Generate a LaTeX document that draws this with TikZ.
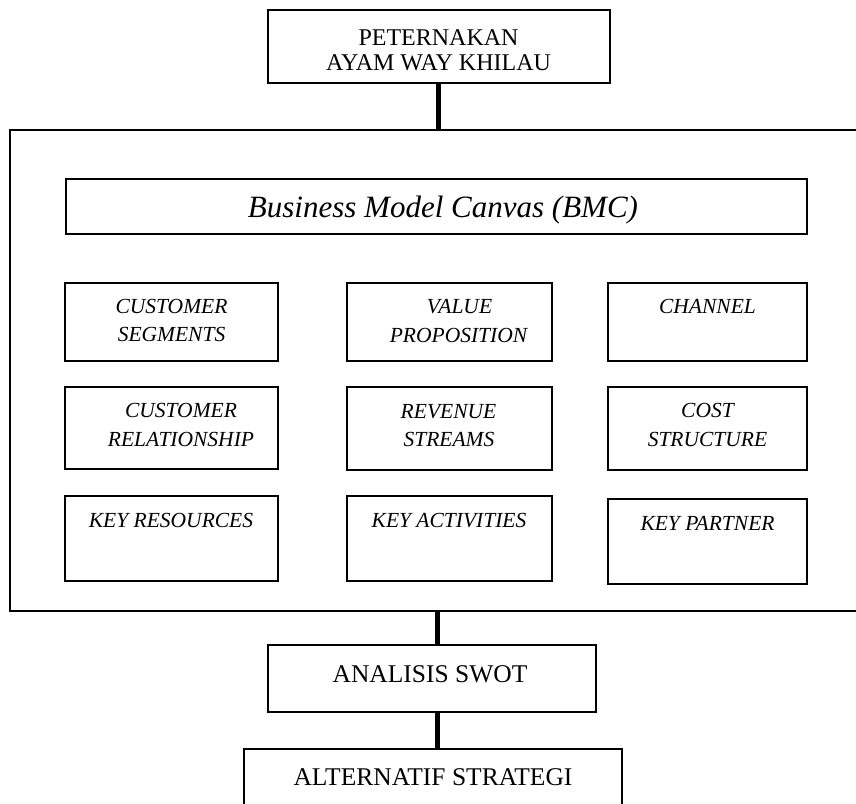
\documentclass[tikz,border=0pt]{standalone}
\usepackage{fontspec}
\setmainfont{Liberation Serif}
\begin{document}
\begin{tikzpicture}[x=1pt,y=-1pt,
  box/.style={draw=black, line width=2.6pt, rectangle, inner sep=0pt, fill=none},
  lnk/.style={draw=black, line width=5pt},
  up/.style={anchor=base, inner sep=0pt, font=\fontsize{24}{25}\selectfont},
  low/.style={anchor=base, inner sep=0pt, font=\fontsize{25.5}{27}\selectfont},
  cell/.style={anchor=base, inner sep=0pt, font=\fontsize{21.5}{26}\selectfont\itshape},
  bmct/.style={anchor=base, inner sep=0pt, font=\fontsize{31}{33}\selectfont\itshape}]
\useasboundingbox (0,0) rectangle (856,803);
% boxes
\node[box, minimum width=342, minimum height=73] (top) at (439,46.5) {};
\node[box, minimum width=860, minimum height=481] (frame) at (440,370.5) {};
\node[box, minimum width=741, minimum height=55] (bmc) at (436.5,206.5) {};
\node[box, minimum width=213, minimum height=78] (cs) at (171.5,322) {};
\node[box, minimum width=205, minimum height=78] (vp) at (449.5,322) {};
\node[box, minimum width=199, minimum height=78] (ch) at (707.5,322) {};
\node[box, minimum width=213, minimum height=82] (cr) at (171.5,428) {};
\node[box, minimum width=205, minimum height=83] (rs) at (449.5,428.5) {};
\node[box, minimum width=199, minimum height=83] (cost) at (707.5,428.5) {};
\node[box, minimum width=213, minimum height=85] (kr) at (171.5,538.5) {};
\node[box, minimum width=205, minimum height=85] (ka) at (449.5,538.5) {};
\node[box, minimum width=199, minimum height=85] (kp) at (707.5,541.5) {};
\node[box, minimum width=328, minimum height=67] (swot) at (432,678.5) {};
\node[box, minimum width=378, minimum height=81] (alt) at (433,789.5) {};
% connectors
\coordinate (ct) at (438,0);
\coordinate (cb) at (437,0);
\draw[lnk] (top.south -| ct) -- (frame.north -| ct);
\draw[lnk] (frame.south -| cb) -- (swot.north -| cb);
\draw[lnk] (swot.south -| cb) -- (alt.north -| cb);
% texts
\node[up] (ta) at (438.5,45) {PETERNAKAN};
\node[up] (tb) at (438.5,70) {AYAM WAY KHILAU};
\node[bmct] (tbmc) at (443,217) {Business Model Canvas (BMC)};
\node[cell] (cs1) at (171.5,313) {CUSTOMER};
\node[cell] (cs2) at (171.5,341) {SEGMENTS};
\node[cell] (vp1) at (459.5,313) {VALUE};
\node[cell] (vp2) at (458.5,342) {PROPOSITION};
\node[cell] (ch1) at (707.5,313) {CHANNEL};
\node[cell] (cr1) at (181,417) {CUSTOMER};
\node[cell] (cr2) at (181,446) {RELATIONSHIP};
\node[cell] (rs1) at (448.5,418) {REVENUE};
\node[cell] (rs2) at (449,446) {STREAMS};
\node[cell] (co1) at (707.5,417) {COST};
\node[cell] (co2) at (707.5,446) {STRUCTURE};
\node[cell] (kr1) at (171,527) {KEY RESOURCES};
\node[cell] (ka1) at (449,527) {KEY ACTIVITIES};
\node[cell] (kp1) at (707.5,530) {KEY PARTNER};
\node[low] (sw1) at (430,682) {ANALISIS SWOT};
\node[low] (al1) at (433,785) {ALTERNATIF STRATEGI};
\end{tikzpicture}
\end{document}
